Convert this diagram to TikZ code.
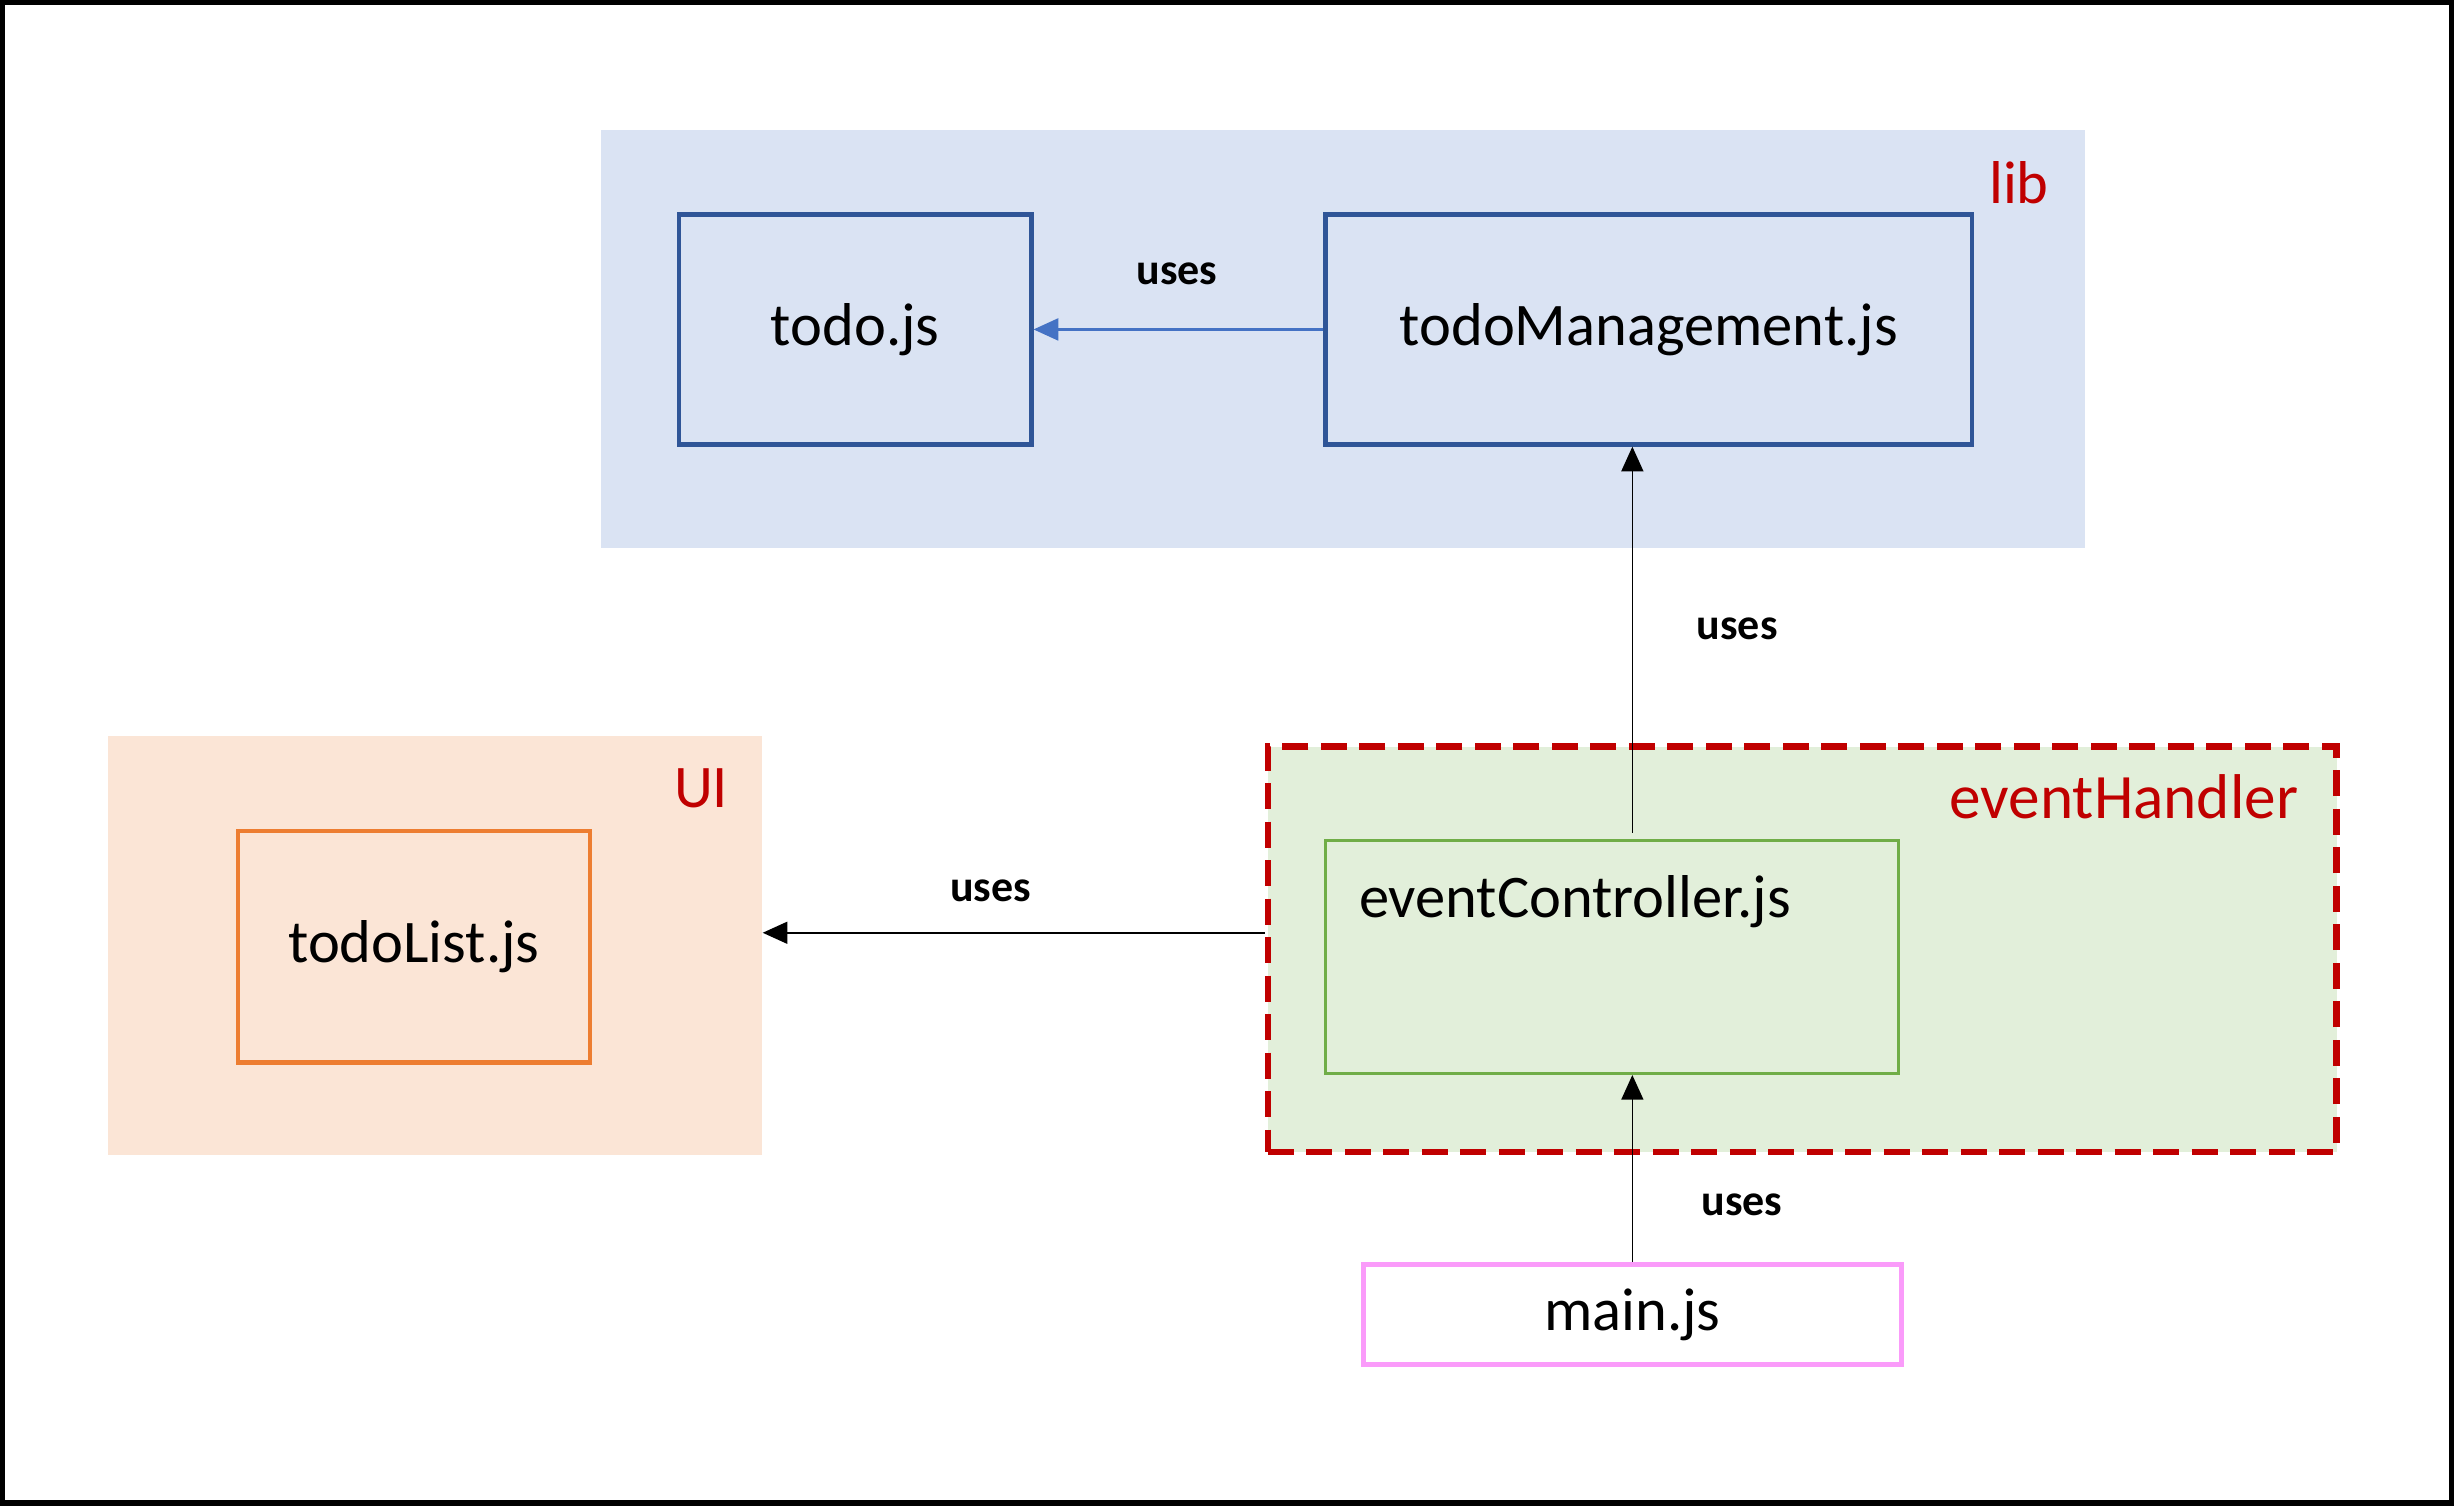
\documentclass[tikz,border=0pt]{standalone}
\usepackage{fontspec}
\setmainfont{Carlito}
\usetikzlibrary{arrows.meta}
\definecolor{libfill}{HTML}{DAE3F3}
\definecolor{libline}{HTML}{2F5597}
\definecolor{usesblue}{HTML}{4472C4}
\definecolor{uifill}{HTML}{FBE5D6}
\definecolor{uiline}{HTML}{ED7D31}
\definecolor{evfill}{HTML}{E2EFDA}
\definecolor{evline}{HTML}{70AD47}
\definecolor{grpred}{HTML}{C00000}
\definecolor{mainline}{RGB}{250,155,250}
\tikzset{
  grp/.style={draw=none, rectangle, inner sep=0pt},
  grplabel/.style={text=grpred, font=\fontsize{22}{26}\selectfont, inner sep=0pt},
  file/.style={rectangle, inner sep=0pt, font=\fontsize{22}{26}\selectfont},
  uses/.style={font=\bfseries\fontsize{16}{19}\selectfont, inner sep=0pt},
  arr/.style={-{Triangle[width=8pt,length=9pt]}, line width=0.6pt},
}
\begin{document}
\begin{tikzpicture}[x=0.02cm, y=-0.02cm]
      \useasboundingbox (0,0) rectangle (1568,962);
      \draw[line width=2.2pt] (1.5,1.5) rectangle (1566.5,960.5);
      % groups
      \node[grp, fill=libfill, minimum width=18.96cm, minimum height=5.34cm] (libbg) at (858,216.5) {};
      \node[grp, fill=uifill, minimum width=8.36cm, minimum height=5.36cm] (uibg) at (278,604) {};
      \node[grp, fill=evfill, draw=grpred, line width=2.3pt, dash pattern=on 9.5pt off 4.5pt,
            minimum width=13.66cm, minimum height=5.18cm] (handler) at (1151.5,606.5) {};
      \node[grplabel] (liblabel) at (1290,117) {lib};
      \node[grplabel] (uilabel) at (448,504) {UI};
      \node[grplabel, font=\fontsize{23}{27}\selectfont] (handlerlabel) at (1357,509) {eventHandler};
      % files
      \node[file, draw=libline, line width=1.6pt, minimum width=4.5cm, minimum height=2.94cm] (todo) at (546.5,210.5) {todo.js};
      \node[file, draw=libline, line width=1.6pt, minimum width=8.26cm, minimum height=2.94cm] (mgmt) at (1053.5,210.5) {todoManagement.js};
      \node[file, draw=uiline, line width=1.6pt, minimum width=4.5cm, minimum height=2.96cm] (todolist) at (264.5,605) {todoList.js};
      \node[file, draw=evline, line width=1pt, minimum width=7.32cm, minimum height=2.98cm] (ctrl) at (1030,611.5) {};
      \node[file, anchor=west] (ctrltext) at (868,576) {eventController.js};
      \node[file, draw=mainline, fill=white, line width=1.8pt, minimum width=6.88cm, minimum height=1.28cm] (main) at (1043,840) {main.js};
      % uses
      \draw[arr, draw=usesblue, fill=usesblue, line width=0.8pt] (mgmt.west) -- (todo.east);
      \draw[arr] (main.north |- 0,532) -- (main.north |- mgmt.south);
      \draw[arr] (handler.west |- 0,596) -- (uibg.east |- 0,596);
      \draw[arr] (main.north) -- (main.north |- ctrl.south);
      \node[uses] (uses1) at (752,175) {uses};
      \node[uses] (uses2) at (1110,402) {uses};
      \node[uses] (uses3) at (633,569) {uses};
      \node[uses] (uses4) at (1113,770) {uses};
    \end{tikzpicture}
\end{document}
